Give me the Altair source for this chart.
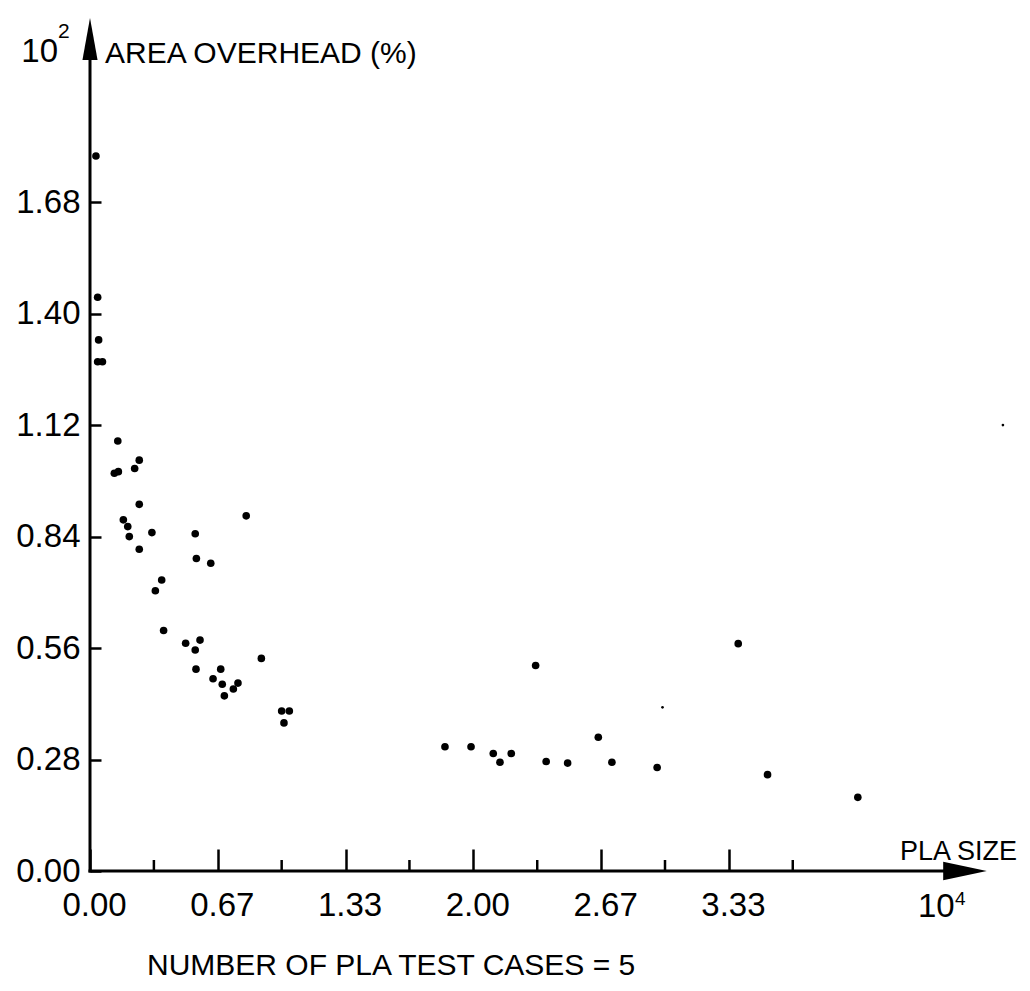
import altair as alt
import pandas as pd

# ---- data ----
pla_size = [0.031, 0.040, 0.045, 0.040, 0.065, 0.145, 0.127, 0.148, 0.233, 0.257,
            0.257, 0.174, 0.197, 0.205, 0.257, 0.323, 0.549, 0.815, 0.555, 0.630,
            0.374, 0.341, 0.384, 0.499, 0.574, 0.549, 0.553, 0.682, 0.642, 0.690,
            0.701, 0.748, 0.772, 0.894, 1.000, 1.040, 1.012, 1.852, 1.988, 2.104,
            2.139, 2.198, 2.325, 2.380, 2.492, 2.652, 2.723, 2.959, 3.382, 3.535,
            4.006]
area_overhead = [1.796, 1.441, 1.334, 1.279, 1.279, 1.080, 0.999, 1.003, 1.011, 1.032,
                 0.921, 0.882, 0.865, 0.840, 0.808, 0.850, 0.847, 0.892, 0.785, 0.773,
                 0.731, 0.704, 0.604, 0.572, 0.580, 0.555, 0.507, 0.507, 0.483, 0.469,
                 0.440, 0.457, 0.472, 0.534, 0.402, 0.402, 0.372, 0.312, 0.312, 0.295,
                 0.273, 0.295, 0.516, 0.275, 0.271, 0.336, 0.273, 0.260, 0.571, 0.242,
                 0.185]
speck_x = [2.987, 4.763]
speck_y = [0.411, 1.120]

x_major_ticks = [0.0, 2 / 3, 4 / 3, 2.0, 8 / 3, 10 / 3]
x_minor_ticks = [1 / 3, 1.0, 5 / 3, 7 / 3, 3.0, 11 / 3]
y_ticks = [0.0, 0.28, 0.56, 0.84, 1.12, 1.40, 1.68]

X_MAX = 4.68
Y_MAX = 2.14
W = 897
H = 852
FONT = "Liberation Sans"

pts = pd.DataFrame({"x": pla_size, "y": area_overhead})
specks = pd.DataFrame({"x": speck_x, "y": speck_y})
minor = pd.DataFrame({"x": x_minor_ticks})
one = pd.DataFrame({"k": [0]})

xscale = alt.Scale(domain=[0, X_MAX], nice=False, zero=True)
yscale = alt.Scale(domain=[0, Y_MAX], nice=False, zero=True)

x_axis = alt.Axis(values=x_major_ticks, format=".2f", title=None,
                  offset=-22, tickSize=22, tickWidth=2.5, tickColor="black",
                  domain=False, grid=False, labelFont=FONT, labelFontSize=33,
                  labelColor="black", labelPadding=18, labelOffset=4,
                  labelFlush=False, labelOverlap=False)
y_axis = alt.Axis(values=y_ticks, format=".2f", title=None,
                  offset=-11, tickSize=11, tickWidth=2.5, tickColor="black",
                  domain=False, grid=False, labelFont=FONT, labelFontSize=33,
                  labelColor="black", labelPadding=10,
                  labelFlush=False, labelOverlap=False)

points = alt.Chart(pts).mark_circle(size=58, color="black", opacity=1).encode(
    x=alt.X("x:Q", scale=xscale, axis=x_axis),
    y=alt.Y("y:Q", scale=yscale, axis=y_axis),
)

speck_layer = alt.Chart(specks).mark_circle(size=7, color="black", opacity=1).encode(
    x=alt.X("x:Q", scale=xscale, axis=x_axis),
    y=alt.Y("y:Q", scale=yscale, axis=y_axis),
)

minor_layer = alt.Chart(minor).mark_rule(color="black", strokeWidth=2.5).encode(
    x=alt.X("x:Q", scale=xscale, axis=x_axis),
    y=alt.value(H - 11),
    y2=alt.value(H),
)

y_axis_line = alt.Chart(one).mark_rule(color="black", strokeWidth=3).encode(
    x=alt.value(0), y=alt.value(20), y2=alt.value(H + 1.5))
x_axis_line = alt.Chart(one).mark_rule(color="black", strokeWidth=3).encode(
    x=alt.value(-1.5), x2=alt.value(875), y=alt.value(H))

y_arrow = alt.Chart(one).mark_point(
    shape="M0,-1L0.36,1L-0.36,1Z", size=1764, filled=True, color="black", opacity=1
).encode(x=alt.value(0), y=alt.value(20))
x_arrow = alt.Chart(one).mark_point(
    shape="M1,0L-1,0.42L-1,-0.42Z", size=1900, filled=True, color="black", opacity=1
).encode(x=alt.value(875), y=alt.value(H))


def label(txt, px, py, size, align="left"):
    return alt.Chart(pd.DataFrame({"t": [txt]})).mark_text(
        font=FONT, fontSize=size, color="black", align=align,
        baseline="alphabetic"
    ).encode(x=alt.value(px), y=alt.value(py), text="t:N")


texts = [
    label("10", -32, 43, 33, "right"),
    label("2", -32, 19, 21),
    label("AREA OVERHEAD (%)", 15, 44, 30),
    label("PLA SIZE", 927, 841, 27, "right"),
    label("10", 828, 898, 33),
    label("4", 865, 886, 19),
    label("NUMBER OF PLA TEST CASES = 5", 57, 956, 30),
]

chart = alt.layer(
    points, speck_layer, minor_layer, y_axis_line, x_axis_line, y_arrow, x_arrow,
    *texts
).properties(
    width=W, height=H,
    autosize=alt.AutoSizeParams(type="none"),
    padding={"left": 82, "top": 11, "right": 35, "bottom": 112},
    background="white",
).configure_view(stroke=None)

chart.save("out.html", embed_options={"renderer": "svg", "actions": False})
